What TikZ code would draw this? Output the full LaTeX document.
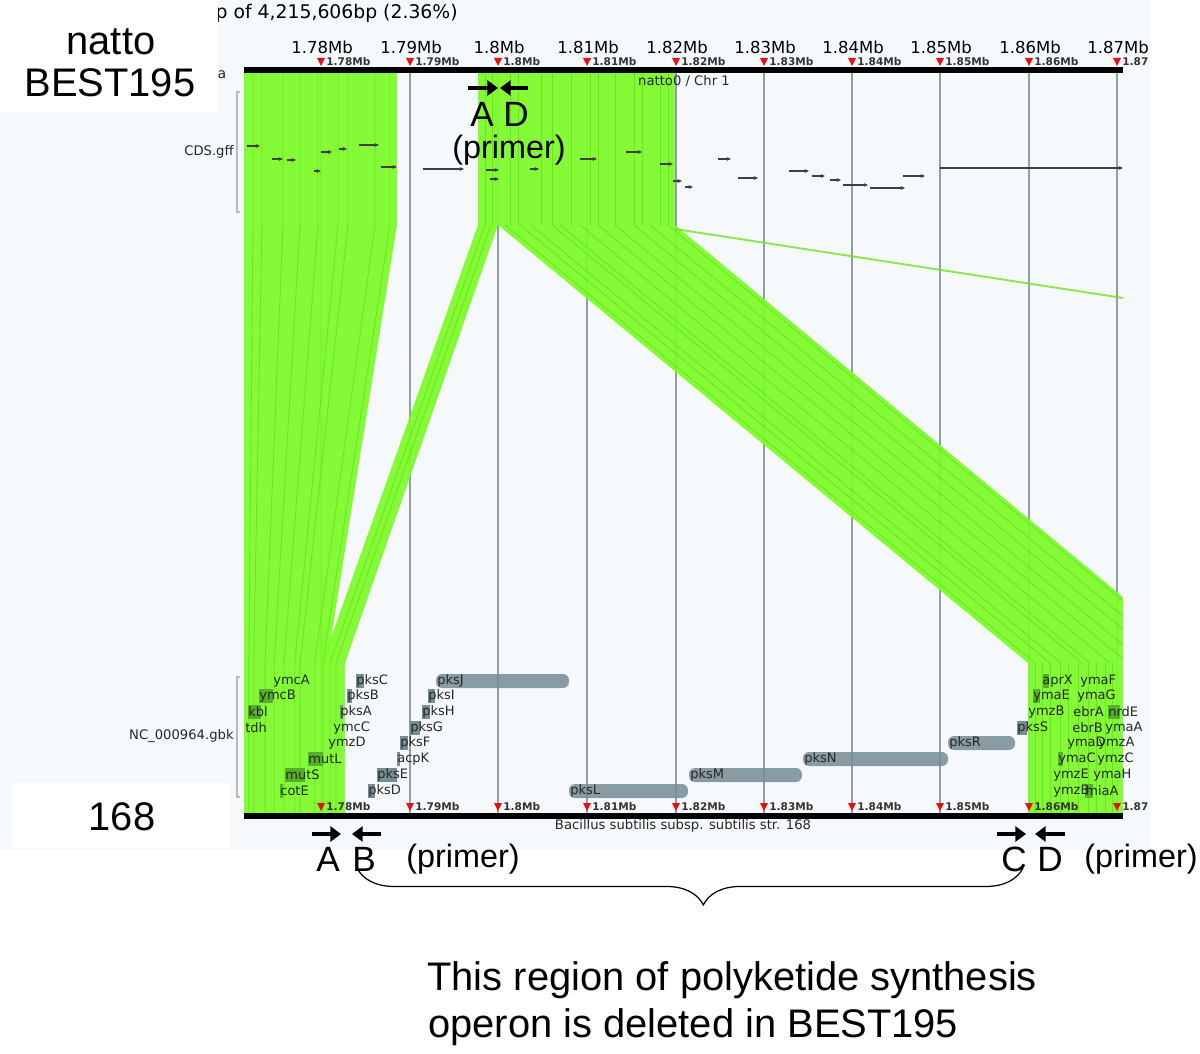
\documentclass[tikz,border=0pt]{standalone}
\usepackage{fontspec}
\setmainfont{Liberation Sans}
\newfontfamily\gbfont{DejaVu Sans}
\usepackage{tikz}
\usetikzlibrary{arrows.meta}
\usetikzlibrary{decorations.pathreplacing}
\usetikzlibrary{positioning,calc}
\definecolor{panelbg}{RGB}{246,249,251}
\definecolor{syngreen}{RGB}{124,252,40}
\definecolor{synedge}{RGB}{96,222,20}
\definecolor{gridgray}{RGB}{146,158,168}
\definecolor{genegray}{RGB}{120,140,148}
\definecolor{genegreen}{RGB}{84,176,40}
\definecolor{tickred}{RGB}{230,16,16}

\begin{document}
\begin{tikzpicture}[x=0.02cm,y=-0.02cm,
    bigtxt/.style={inner sep=0pt,font=\fontsize{22.7}{25.5}\selectfont},
    primtxt/.style={inner sep=0pt,anchor=base,font=\fontsize{18.4}{20}\selectfont},
    lettxt/.style={inner sep=0pt,anchor=base,font=\fontsize{20}{22}\selectfont},
    rulertxt/.style={inner sep=0pt,font=\gbfont\fontsize{9.4}{10}\selectfont},
    ticktxt/.style={inner sep=0pt,anchor=west,text=black!80,font=\gbfont\bfseries\fontsize{6}{7}\selectfont},
    smalltxt/.style={inner sep=0pt,text=black!85,font=\gbfont\fontsize{7.5}{8}\selectfont},
    genetxt/.style={inner sep=0pt,anchor=west,text=black!85,font=\gbfont\fontsize{7.4}{8}\selectfont},
    genebar/.style={fill=genegray,fill opacity=0.85,rounded corners=3.5pt},
    primer/.style={line width=2.4pt,-{Triangle[length=6pt,width=8.5pt]}},
    gridline/.style={gridgray,line width=0.75pt},
    trackbrk/.style={gray!55,line width=0.8pt},
    synband/.style={fill=syngreen,fill opacity=0.93},
    syncut/.style={synedge,line width=0.5pt,opacity=0.7},
    cdsfeat/.style={black!75,line width=0.6pt,-{Stealth[length=2.5pt,width=2.2pt]}},
    delbrace/.style={decorate,decoration={brace,mirror,amplitude=21pt,aspect=0.52},line width=0.7pt}]
  \useasboundingbox (0,0) rectangle (1200,1054);
  \fill[white] (0,0) rectangle (1200,1054);
  \fill[panelbg] (0,0) rectangle (1150,850);
  \node[rulertxt,anchor=east,font=\gbfont\fontsize{10.7}{12}\selectfont] (title) at (458,13) {bp of 4,215,606bp (2.36\%)};
  \fill[white] (0,0) rectangle (218,112);
  \fill[white] (12,783) rectangle (230,848);
  \node[bigtxt,anchor=base] (natto) at (111,55) {natto};
  \node[bigtxt,anchor=base] (best) at (110,97) {BEST195};
  \node[bigtxt,anchor=base] (str168) at (122,830) {168};

  \foreach \t [count=\i] in {321,410,498,587,676,764,852,940,1029,1117}
    \draw[gridline] (\t,73) -- (\t,813);

  \draw[trackbrk] (240,92) -- (237,92) -- (237,212) -- (240,212);
  \draw[trackbrk] (240,677) -- (237,677) -- (237,797) -- (240,797);
  \node[smalltxt,anchor=east] (cds) at (234,152) {CDS.gff};
  \node[smalltxt,anchor=east] (gbk) at (234,736) {NC\_000964.gbk};
  \node[smalltxt,font=\gbfont\fontsize{8}{9}\selectfont] (trk) at (222,75) {a};

  \fill[synband] (244,73) rectangle (397,225);
  \fill[synband] (244,225) -- (397,225) -- (327,663) -- (244,663) -- cycle;
  \fill[synband] (244,663) rectangle (345,813);
  \fill[synband] (478,73) rectangle (675,225);
  \fill[synband] (478,225) -- (498,225) -- (345,663) -- (322,663) -- cycle;
  \fill[synband] (498,225) -- (675,225) -- (1123,597) -- (1123,663) -- (1028,663) -- cycle;
  \fill[synband] (1028,663) rectangle (1123,813);
  \coordinate (lnA) at (675,229);
  \coordinate (lnB) at (1123,298);
  \draw[syngreen!90!black,line width=1.1pt,opacity=0.8] (lnA) -- (lnB);

  \foreach \x in {253,262,283,300,318,338,348,375,390}
    \draw[syncut] (\x,73) -- (\x,225) -- ({244+(\x-244)*0.54},663) -- ({244+(\x-244)*0.54},813);
  \foreach \x in {485,491}
    \draw[syncut] (\x,225) -- ({\x-155},663) -- ({\x-155},813);
  \foreach \x in {485,492,510,518,541,552,571,590,598,615,634,642,660,668}
    \draw[syncut] (\x,73) -- (\x,225);
  \begin{scope}
    \clip (498,225) -- (675,225) -- (1123,597) -- (1123,663) -- (1028,663) -- cycle;
    \foreach \x in {505,520,531,552,560,580,598,615,634,650,668}
      \draw[syncut] (\x,225) -- ++(530,438);
  \end{scope}
  \foreach \x in {1035,1042,1050,1060,1068,1078,1088,1096,1105,1112}
    \draw[syncut] (\x,663) -- (\x,813);

  \foreach \a/\b/\y in {247/260/146,272/283/159,287/296/160,314/321/171,321/332/152,
      339/347/149,359/379/145,381/397/167,423/464/169,486/499/170,490/499/179,
      530/539/169,580/597/159,626/642/152,660/673/164,673/682/181,685/693/187,
      718/731/159,738/758/178,789/809/171,812/825/176,830/841/180,843/868/185,
      870/905/188,903/925/176,940/1123/168}
    \draw[cdsfeat] (\a,\y) -- (\b,\y);

  \fill[black] (244,67.5) rectangle (1123,73.5);
  \fill[black] (244,813) rectangle (1123,819);
  \foreach \t/\lab/\sml [count=\i] in {321/1.78Mb/1.78Mb,410/1.79Mb/1.79Mb,498/1.8Mb/1.8Mb,
      587/1.81Mb/1.81Mb,676/1.82Mb/1.82Mb,764/1.83Mb/1.83Mb,852/1.84Mb/1.84Mb,
      940/1.85Mb/1.85Mb,1029/1.86Mb/1.86Mb,1117/1.87Mb/1.87}{
    \node[rulertxt] (rul\i) at (\t+1,47) {\lab};
    \fill[tickred] (\t-4,58) -- (\t+4,58) -- (\t,66) -- cycle;
    \node[ticktxt] (tkt\i) at (\t+5,62) {\sml};
    \fill[tickred] (\t-4,803) -- (\t+4,803) -- (\t,811) -- cycle;
    \node[ticktxt] (tkb\i) at (\t+5,807) {\sml};
  }
  \node[smalltxt] (chrtop) at (684,81) {natto0 / Chr 1};
  \node[smalltxt] (chrbot) at (683,826) {Bacillus subtilis subsp. subtilis str. 168};

  \foreach \a/\b/\y in {436/569/681,569/688/791,689/802/775,803/948/759,948/1015/743}
    \fill[genebar] (\a,\y-7) rectangle (\b,\y+7);
  \foreach \a/\b/\y in {356/364/681,347/352/696,340/343/712,428/435/696,422/430/712,
      410/420/728,400/408/743,397/400/759,377/397/775,368/375/791,1017/1027/728}
    \fill[genegray] (\a,\y-7) rectangle (\b,\y+7);
  \foreach \a/\b/\y in {259/273/696,248/261/712,308/323/759,285/305/775,280/283/791,
      1043/1049/681,1033/1040/696,1108/1120/712,1085/1093/791,1058/1063/759}
    \fill[genegreen] (\a,\y-7) rectangle (\b,\y+7);
  \foreach \g/\x/\y [count=\i] in {ymcA/273/681,ymcB/259/696,kbl/248/712,tdh/245/728,
      ymcC/333/728,ymzD/328/743,mutL/308/759,mutS/285/775,cotE/280/791,
      pksC/356/681,pksB/347/696,pksA/340/712,pksJ/437/681,pksI/428/696,pksH/422/712,
      pksG/410/728,pksF/400/743,acpK/397/759,pksE/377/775,pksD/368/791,
      pksL/570/791,pksM/690/775,pksN/804/759,pksR/949/743,pksS/1017/728,
      aprX/1042/681,ymaF/1080/681,ymaE/1033/696,ymaG/1077/696,ymzB/1028/712,
      ebrA/1073/712,nrdE/1108/712,ebrB/1072/728,ymaA/1105/728,ymaD/1067/743,
      ymzA/1098/743,ymaC/1058/759,ymzC/1097/759,ymzE/1053/775,ymaH/1093/775,
      ymzB/1053/791,miaA/1085/791}
    \node[genetxt] (gene\i) at (\x,\y) {\g};

  \coordinate (tA0) at (468,88);  \coordinate (tA1) at (498,88);
  \coordinate (tD0) at (528,88);  \coordinate (tD1) at (500,88);
  \draw[primer] (tA0) -- (tA1);
  \draw[primer] (tD0) -- (tD1);
  \node[lettxt] (topA) at (482,127) {A};
  \node[lettxt] (topD) at (516,127) {D};
  \node[primtxt] (topprim) at (509,159) {(primer)};

  \coordinate (bA0) at (312,834); \coordinate (bA1) at (341,834);
  \coordinate (bB0) at (381,834); \coordinate (bB1) at (352,834);
  \coordinate (bC0) at (997,834); \coordinate (bC1) at (1026,834);
  \coordinate (bD0) at (1065,834); \coordinate (bD1) at (1035,834);
  \foreach \p in {A,B,C,D}
    \draw[primer] (b\p0) -- (b\p1);
  \node[lettxt] (botA) at (328,871) {A};
  \node[lettxt] (botB) at (364,871) {B};
  \node[primtxt] (botprim1) at (463,867) {(primer)};
  \node[lettxt] (botC) at (1014,871) {C};
  \node[lettxt] (botD) at (1050,871) {D};
  \node[primtxt] (botprim2) at (1141,867) {(primer)};

  \coordinate (brL) at (357,868);
  \coordinate (brR) at (1023,868);
  \draw[delbrace] (brL) -- (brR);
  \node[bigtxt,anchor=base west] (note1) at (427,990) {This region of polyketide synthesis};
  \node[bigtxt,anchor=base west] (note2) at (428,1037) {operon is deleted in BEST195};
\end{tikzpicture}
\end{document}
